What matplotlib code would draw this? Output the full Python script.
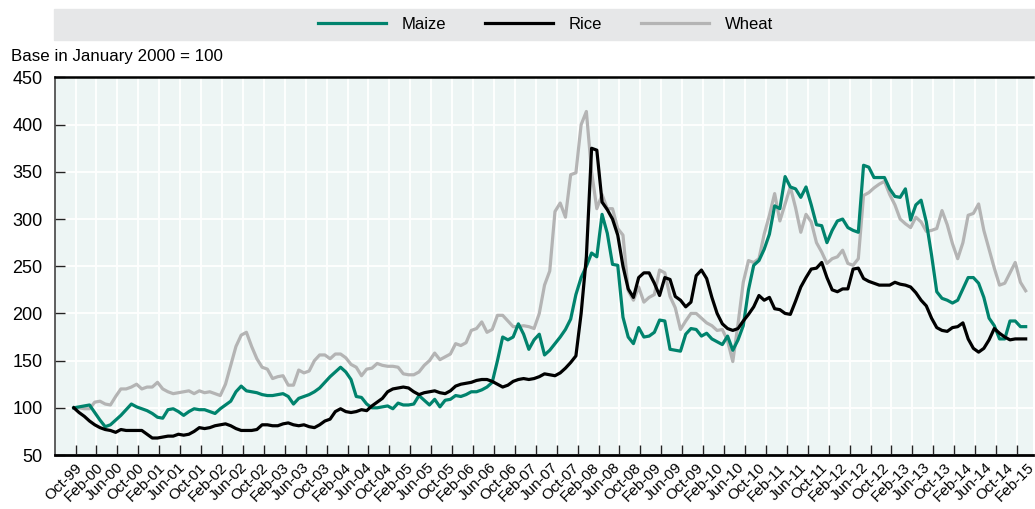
import matplotlib.pyplot as plt
from matplotlib.patches import Rectangle
import numpy as np

plt.rcParams['font.family'] = ['Liberation Sans Narrow', 'Liberation Sans', 'DejaVu Sans']

### colours ###
maizecolour = "#00836d"
ricecolour = "#000000"
wheatcolour = "#b4b4b4"
plotbg = "#edf5f4"
bandcolour = "#e6e7e8"

### monthly price indices, Jan 2000 = 100 ###
maize = [100, 101, 102, 103, 95, 87, 80, 82, 87, 92, 98, 104, 101, 99, 97, 94, 90, 89, 98, 99,
         96, 92, 96, 99, 98, 98, 96, 94,
         99, 103, 107, 117, 123, 118, 117, 116, 114, 113, 113, 114, 115, 112, 104, 110, 112, 114,
         117, 121, 127, 133, 138, 143, 138, 130, 112, 111, 104, 100, 100,
         101, 102, 99, 105, 103, 103, 104, 113, 108, 103, 109, 101, 108, 109, 113, 112, 114, 117,
         117, 119, 122, 127, 150, 175, 172, 175, 189, 178, 162, 172, 178,
         156, 161, 168, 175, 183, 194, 220, 238, 250, 264, 260, 305, 285, 252, 251, 196, 175, 168,
         185, 175, 176, 180, 193, 192, 162, 161, 160, 178, 184,
         183, 176, 179, 173, 170, 167, 176, 161, 172, 187, 225, 251, 256, 268, 284, 314, 311, 345,
         334, 332, 323, 334, 315, 294, 293, 275, 288, 298, 300, 291, 288, 286,
         357, 355, 344, 344, 344, 332, 324, 323, 332, 299, 315, 320, 297, 262, 223, 216, 214, 211,
         214, 226, 238, 238, 232, 217, 195, 187, 173, 173, 192, 192, 186, 186]
rice = [100, 95, 91, 86, 82, 79, 77, 76, 74, 77, 76, 76, 76, 76, 72, 68, 68, 69, 70, 70,
        72, 71, 72, 75, 79, 78, 79, 81,
        82, 83, 81, 78, 76, 76, 76, 77, 82, 82, 81, 81, 83, 84, 82, 81, 82, 80,
        79, 82, 86, 88, 96, 99, 96, 95, 96, 98, 97, 102, 106,
        110, 117, 120, 121, 122, 121, 117, 114, 116, 117, 118, 116, 115, 118, 123, 125, 126, 127,
        129, 130, 130, 128, 125, 122, 124, 128, 130, 131, 130, 131, 133,
        136, 135, 134, 137, 142, 148, 155, 200, 260, 375, 373, 318, 310, 300, 283, 250, 226, 217,
        238, 243, 243, 232, 219, 238, 236, 218, 214, 207, 212,
        240, 246, 237, 217, 200, 189, 184, 182, 184, 192, 199, 207, 219, 214, 217, 205, 204, 200,
        199, 213, 228, 238, 247, 248, 254, 238, 225, 223, 226, 226, 247, 248,
        237, 234, 232, 230, 230, 230, 233, 231, 230, 228, 222, 214, 208, 195, 185, 182, 181, 185,
        186, 190, 173, 163, 159, 163, 172, 184, 179, 175, 172, 173, 173, 173]
wheat = [100, 100, 99, 99, 106, 107, 104, 103, 112, 120, 120, 122, 125, 120, 122, 122, 127, 120,
         117, 115, 116, 117, 118, 115, 118, 116, 117, 115,
         113, 125, 145, 165, 177, 180, 165, 152, 143, 141, 131, 133, 134, 124, 124, 140, 137, 139,
         150, 156, 156, 152, 157, 157, 153, 146, 143, 134, 141, 142, 147,
         145, 144, 144, 143, 136, 135, 135, 138, 145, 150, 158, 151, 154, 157, 168, 166, 169, 182,
         184, 191, 180, 183, 198, 198, 192, 186, 186, 187, 186, 184, 200,
         230, 245, 308, 317, 302, 347, 349, 400, 414, 350, 311, 326, 311, 311, 290, 283, 224, 214,
         228, 212, 217, 220, 246, 243, 218, 206, 183, 192, 200,
         200, 195, 190, 187, 182, 183, 171, 149, 189, 233, 256, 254, 258, 284, 304, 327, 298, 316,
         334, 312, 286, 305, 297, 275, 265, 253, 258, 260, 267, 253, 251, 258,
         325, 328, 333, 337, 340, 326, 315, 300, 295, 291, 302, 297, 287, 288, 290, 309, 294, 274,
         258, 275, 304, 306, 316, 288, 268, 248, 230, 232, 243, 254, 233, 224]

tick_labels = ["Oct-99"] + [f"{m}-{y:02d}" for y in range(0, 15) for m in ("Feb", "Jun", "Oct")] + ["Feb-15"]
yticks = [50, 100, 150, 200, 250, 300, 350, 400, 450]

months = np.arange(len(maize))

fig = plt.figure(figsize=(10.35, 5.09), dpi=100)
ax = fig.add_axes([55 / 1035, 1 - 455 / 509, 978 / 1035, (455 - 77.5) / 509])
ax.set_facecolor(plotbg)

ax.plot(months, wheat, color=wheatcolour, lw=2.3, label="Wheat", zorder=3)
ax.plot(months, maize, color=maizecolour, lw=2.3, label="Maize", zorder=4)
ax.plot(months, rice, color=ricecolour, lw=2.3, label="Rice", zorder=5)

ax.set_xlim(-3.6, 183.4)
ax.set_ylim(50, 450)

# ticks every 4 months, labels spread on their own positions
ax.set_xticks(np.arange(46) * 4 + 0.33)
ax.set_xticklabels([])
ax.set_xticks(np.linspace(0.2, 182.2, len(tick_labels)), minor=True)
ax.set_xticklabels(tick_labels, minor=True, rotation=45, ha="right", va="top",
                   rotation_mode="anchor", fontsize=11)
ax.tick_params(axis="x", which="minor", length=0, pad=4)
ax.tick_params(axis="x", which="major", direction="in", length=7, width=1, color="#222222")
ax.set_yticks(yticks)
ax.tick_params(axis="y", direction="in", length=7, width=1, labelsize=13, pad=9, color="#222222")

ax.grid(True, which="major", color="white", lw=1.3)
ax.set_axisbelow(True)
ax.spines["right"].set_visible(False)
ax.spines["top"].set_linewidth(1.8)
ax.spines["bottom"].set_linewidth(2)
ax.spines["left"].set_linewidth(1.2)
ax.spines["left"].set_color("#444444")

fig.patches.append(Rectangle((54 / 1035, 1 - 40 / 509), 981 / 1035, 31 / 509,
                             transform=fig.transFigure, color=bandcolour, zorder=0))
handles, labels = ax.get_legend_handles_labels()
order = [1, 2, 0]
fig.legend([handles[i] for i in order], [labels[i] for i in order], loc="center",
           bbox_to_anchor=(0.527, 1 - 24.5 / 509), ncol=3, frameon=False, fontsize=12,
           handlelength=4.1, handletextpad=0.95, columnspacing=2.3)

fig.text(11 / 1035, 1 - 56 / 509, "Base in January 2000 = 100", fontsize=12.2, va="center", ha="left")

fig.savefig("out.png", dpi=100)
